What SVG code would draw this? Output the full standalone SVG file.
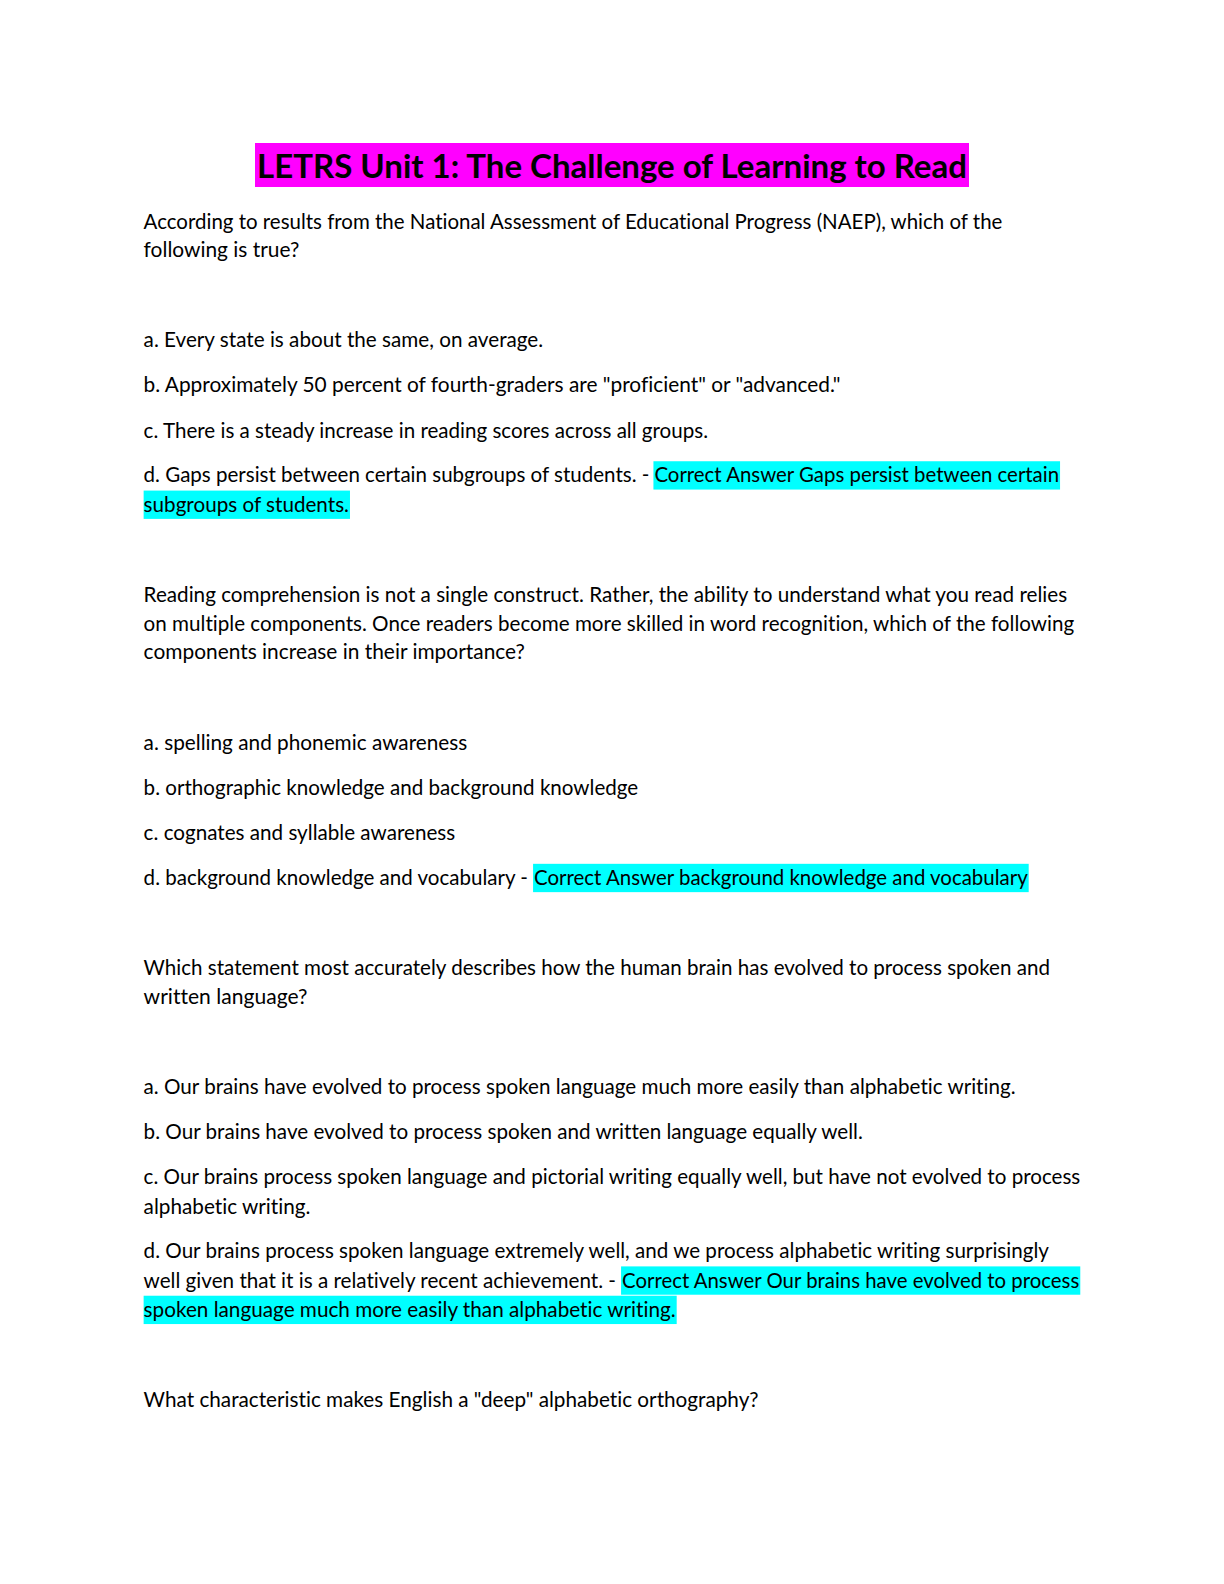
<svg xmlns="http://www.w3.org/2000/svg" width="1224" height="1584" viewBox="0 0 1224 1584">
<style>
.t{font-family:Lato,"Open Sans","Liberation Sans",sans-serif;font-size:20px;fill:#000;font-variant-ligatures:none}
.h{font-family:Lato,"Open Sans","Liberation Sans",sans-serif;font-size:32px;font-weight:bold;fill:#000;font-variant-ligatures:none}
.c{fill:#00FFFF}
.m{fill:#FF00FF}
</style>
<rect width="1224" height="1584" fill="#fff"/>
<g id="title">
<rect class="m" x="255" y="143" width="714" height="44"/>
<text class="h" x="257" y="178" textLength="710" lengthAdjust="spacingAndGlyphs">LETRS Unit 1: The Challenge of Learning to Read</text>
</g>
<g transform="scale(1.0115)">
<g id="q1">
<text class="t" x="142" y="226" textLength="849" lengthAdjust="spacingAndGlyphs">According to results from the National Assessment of Educational Progress (NAEP), which of the</text>
<text class="t" x="142" y="254" textLength="154" lengthAdjust="spacingAndGlyphs">following is true?</text>
<text class="t" x="142" y="343" textLength="395" lengthAdjust="spacingAndGlyphs">a. Every state is about the same, on average.</text>
<text class="t" x="142" y="388" textLength="689" lengthAdjust="spacingAndGlyphs">b. Approximately 50 percent of fourth-graders are "proficient" or "advanced."</text>
<text class="t" x="142" y="433" textLength="558" lengthAdjust="spacingAndGlyphs">c. There is a steady increase in reading scores across all groups.</text>
<rect class="c" x="646" y="456" width="402" height="28"/>
<rect class="c" x="142" y="485" width="204" height="28"/>
<text class="t" x="142" y="477" textLength="500" lengthAdjust="spacingAndGlyphs">d. Gaps persist between certain subgroups of students. -</text>
<text class="t" x="647" y="477" textLength="400" lengthAdjust="spacingAndGlyphs">Correct Answer Gaps persist between certain</text>
<text class="t" x="142" y="506" textLength="203" lengthAdjust="spacingAndGlyphs">subgroups of students.</text>
</g>
<g id="q2">
<text class="t" x="142" y="595" textLength="913" lengthAdjust="spacingAndGlyphs">Reading comprehension is not a single construct. Rather, the ability to understand what you read relies</text>
<text class="t" x="142" y="624" textLength="920" lengthAdjust="spacingAndGlyphs">on multiple components. Once readers become more skilled in word recognition, which of the following</text>
<text class="t" x="142" y="652" textLength="377" lengthAdjust="spacingAndGlyphs">components increase in their importance?</text>
<text class="t" x="142" y="741" textLength="320" lengthAdjust="spacingAndGlyphs">a. spelling and phonemic awareness</text>
<text class="t" x="142" y="786" textLength="489" lengthAdjust="spacingAndGlyphs">b. orthographic knowledge and background knowledge</text>
<text class="t" x="142" y="830" textLength="308" lengthAdjust="spacingAndGlyphs">c. cognates and syllable awareness</text>
<rect class="c" x="527" y="854" width="490" height="28"/>
<text class="t" x="142" y="875" textLength="380" lengthAdjust="spacingAndGlyphs">d. background knowledge and vocabulary -</text>
<text class="t" x="528" y="875" textLength="488" lengthAdjust="spacingAndGlyphs">Correct Answer background knowledge and vocabulary</text>
</g>
<g id="q3">
<text class="t" x="142" y="964" textLength="896" lengthAdjust="spacingAndGlyphs">Which statement most accurately describes how the human brain has evolved to process spoken and</text>
<text class="t" x="142" y="993" textLength="162" lengthAdjust="spacingAndGlyphs">written language?</text>
<text class="t" x="142" y="1082" textLength="862" lengthAdjust="spacingAndGlyphs">a. Our brains have evolved to process spoken language much more easily than alphabetic writing.</text>
<text class="t" x="142" y="1126" textLength="711" lengthAdjust="spacingAndGlyphs">b. Our brains have evolved to process spoken and written language equally well.</text>
<text class="t" x="142" y="1171" textLength="926" lengthAdjust="spacingAndGlyphs">c. Our brains process spoken language and pictorial writing equally well, but have not evolved to process</text>
<text class="t" x="142" y="1200" textLength="165" lengthAdjust="spacingAndGlyphs">alphabetic writing.</text>
<text class="t" x="142" y="1244" textLength="895" lengthAdjust="spacingAndGlyphs">d. Our brains process spoken language extremely well, and we process alphabetic writing surprisingly</text>
<rect class="c" x="614" y="1252" width="454" height="28"/>
<rect class="c" x="142" y="1281" width="527" height="28"/>
<text class="t" x="142" y="1273" textLength="467" lengthAdjust="spacingAndGlyphs">well given that it is a relatively recent achievement. -</text>
<text class="t" x="615" y="1273" textLength="452" lengthAdjust="spacingAndGlyphs">Correct Answer Our brains have evolved to process</text>
<text class="t" x="142" y="1302" textLength="526" lengthAdjust="spacingAndGlyphs">spoken language much more easily than alphabetic writing.</text>
</g>
<g id="q4">
<text class="t" x="142" y="1391" textLength="608" lengthAdjust="spacingAndGlyphs">What characteristic makes English a "deep" alphabetic orthography?</text>
</g>
</g>
</svg>
